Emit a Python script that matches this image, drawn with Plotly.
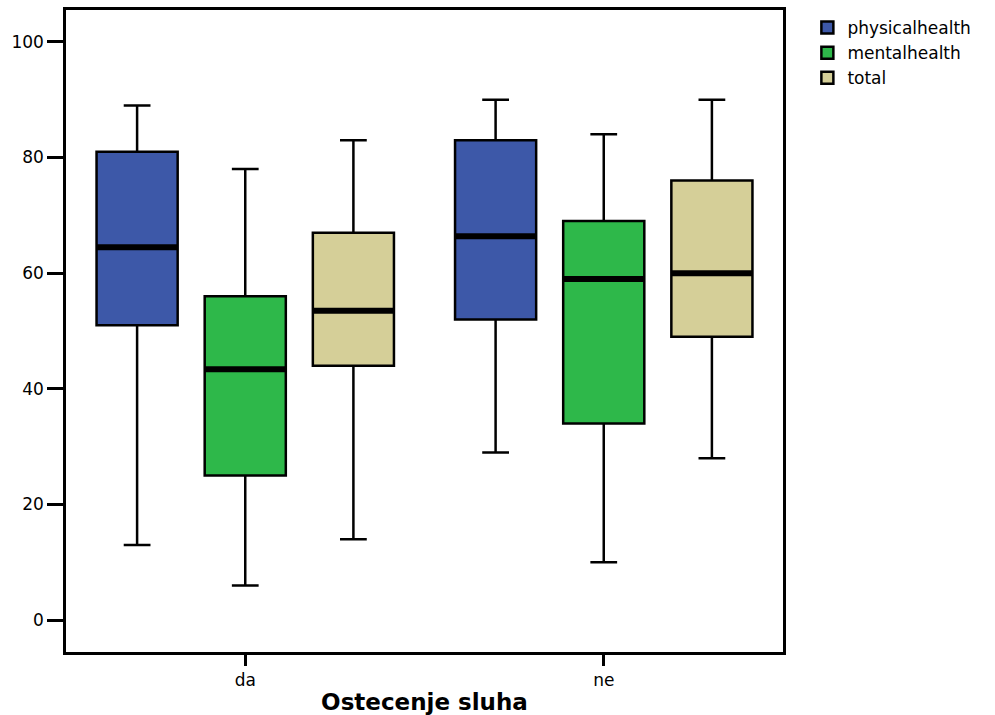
import plotly.graph_objects as go

# Boxplot summary statistics per hearing-impairment group
groups = ["da", "ne"]
series = ["physicalhealth", "mentalhealth", "total"]
colors = ["#3D58A8", "#2EB84A", "#D5CF98"]

lower = {"physicalhealth": [13, 29], "mentalhealth": [6, 10], "total": [14, 28]}
q1 = {"physicalhealth": [51, 52], "mentalhealth": [25, 34], "total": [44, 49]}
median = {"physicalhealth": [64.5, 66.4], "mentalhealth": [43.4, 59], "total": [53.5, 60]}
q3 = {"physicalhealth": [81, 83], "mentalhealth": [56, 69], "total": [67, 76]}
upper = {"physicalhealth": [89, 90], "mentalhealth": [78, 84], "total": [83, 90]}

boxgap = 0.095
boxgroupgap = 0.25

fig = go.Figure()
for name, col in zip(series, colors):
    fig.add_trace(go.Box(
        name=name, x=groups,
        lowerfence=lower[name], q1=q1[name], median=median[name],
        q3=q3[name], upperfence=upper[name],
        fillcolor=col, line=dict(color="black", width=2.5),
        whiskerwidth=0.33, boxpoints=False, hoverinfo="skip",
    ))

# Thick median bars drawn over each box at its grouped position
n = len(series)
slot = (1 - boxgap) / n
half = slot * (1 - boxgroupgap) / 2
for si, name in enumerate(series):
    for gi, _ in enumerate(groups):
        cx = gi - (1 - boxgap) / 2 + slot * (si + 0.5)
        fig.add_shape(type="line", xref="x", yref="y",
                      x0=cx - half, x1=cx + half,
                      y0=median[name][gi], y1=median[name][gi],
                      line=dict(color="black", width=6))

fig.update_layout(
    boxmode="group", boxgap=boxgap, boxgroupgap=boxgroupgap,
    width=995, height=715,
    margin=dict(l=66, r=212, t=10, b=63),
    paper_bgcolor="white", plot_bgcolor="white",
    font=dict(family="DejaVu Sans, Arial, sans-serif", color="black", size=17),
    showlegend=True,
    legend=dict(x=1.034, y=1.0, xanchor="left", yanchor="top",
                font=dict(size=17), tracegroupgap=0,
                bgcolor="rgba(0,0,0,0)"),
    xaxis=dict(
        range=[-0.5, 1.5], showline=True, linecolor="black", linewidth=2.5,
        mirror=True, ticks="outside", ticklen=11, tickwidth=2.5, tickcolor="black",
        showgrid=False, zeroline=False, automargin=False,
        title=dict(text="<b>Ostecenje sluha</b>", font=dict(size=23), standoff=9),
    ),
    yaxis=dict(
        range=[-5.5, 105.5], tickvals=[0, 20, 40, 60, 80, 100],
        showline=True, linecolor="black", linewidth=2.5, mirror=True,
        ticks="outside", ticklen=16, tickwidth=2.5, tickcolor="black",
        showgrid=False, zeroline=False, automargin=False,
    ),
)

fig.write_html("out.html")
